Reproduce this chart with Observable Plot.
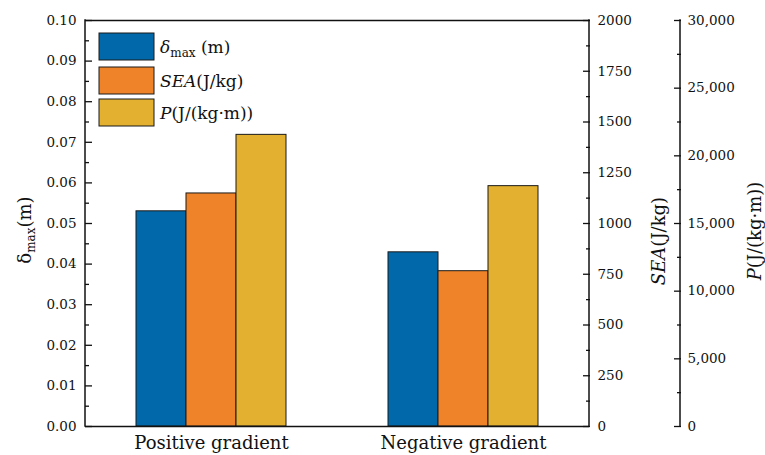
<!DOCTYPE html>
<html><head><meta charset="utf-8">
<script src="https://cdn.jsdelivr.net/npm/d3@7"></script>
<script src="https://cdn.jsdelivr.net/npm/@observablehq/plot@0.6"></script>
<style>
body{margin:0;background:#fff;}
#wrap{position:relative;width:765px;height:455px;}
</style></head><body><div id="wrap"></div>
<script>
// ---- data ----
const groups = ["Positive gradient", "Negative gradient"];
const seriesKeys = ["delta", "sea", "p"];
const deltaValues = [0.0530, 0.0429];     // δmax (m)
const seaValues = [1148, 765];            // SEA (J/kg)
const pValues = [21550, 17760];           // P (J/(kg·m))
const deltaTicks = [0, 0.01, 0.02, 0.03, 0.04, 0.05, 0.06, 0.07, 0.08, 0.09, 0.10];
const seaTicks = [0, 250, 500, 750, 1000, 1250, 1500, 1750, 2000];
const pTicks = [0, 5000, 10000, 15000, 20000, 25000, 30000];
const colors = ["#0168AA", "#EF8329", "#E4B02F"];

const deltaMax = 0.10, seaMax = 2000, pMax = 30000;
const toSea = v => v * deltaMax / seaMax;
const toP = v => v * deltaMax / pMax;
const mids = arr => d3.pairs(arr).map(([a, b]) => (a + b) / 2);

const rows = groups.flatMap((g, i) => [
  {group: g, series: "delta", y: deltaValues[i]},
  {group: g, series: "sea", y: toSea(seaValues[i])},
  {group: g, series: "p", y: toP(pValues[i])}
]);

const W = 765, H = 455, mL = 85, mR = 176, mT = 20, mB = 29, pOffset = 91;
const font = "'DejaVu Serif', serif";
const TK = 7, TM = 4;

const plot = Plot.plot({
  width: W, height: H, marginTop: mT, marginRight: mR, marginBottom: mB, marginLeft: mL,
  style: {fontFamily: font, fontSize: "13.5px", color: "#111", background: "#fff", overflow: "visible"},
  fx: {domain: groups, padding: 0, label: null},
  x: {domain: seriesKeys, paddingInner: 0, paddingOuter: 1, axis: null},
  y: {domain: [0, deltaMax], axis: null},
  color: {domain: seriesKeys, range: colors},
  marks: [
    Plot.barY(rows, {fx: "group", x: "series", y: "y", fill: "series", stroke: "#1a1a1a", strokeWidth: 1}),
    Plot.ruleY([0, deltaMax], {stroke: "#111", strokeWidth: 1.5}),
    Plot.axisFx({anchor: "bottom", tickSize: 0, tickPadding: 10, fontSize: 18, label: null}),
    // left δ axis (ticks inward)
    Plot.axisY({anchor: "left", dx: TK, ticks: deltaTicks, tickSize: TK, tickPadding: 9, strokeWidth: 1.3,
      tickFormat: d3.format(".2f"), label: null}),
    Plot.axisY({anchor: "left", dx: TM, ticks: mids(deltaTicks), tickSize: TM, strokeWidth: 1.3,
      tickFormat: () => "", label: null}),
    // right SEA axis
    Plot.axisY({anchor: "right", dx: -TK, ticks: seaTicks.map(toSea), tickSize: TK, tickPadding: 8, strokeWidth: 1.3,
      tickFormat: d => String(Math.round(d * seaMax / deltaMax)), label: null}),
    Plot.axisY({anchor: "right", dx: -TM, ticks: mids(seaTicks).map(toSea), tickSize: TM, strokeWidth: 1.3,
      tickFormat: () => "", label: null}),
    // far right P axis
    Plot.axisY({anchor: "right", dx: pOffset - TK, ticks: pTicks.map(toP), tickSize: TK, tickPadding: 7, strokeWidth: 1.3,
      tickFormat: d => d3.format(",")(Math.round(d * pMax / deltaMax)), label: null}),
    Plot.axisY({anchor: "right", dx: pOffset - TM, ticks: mids(pTicks).map(toP), tickSize: TM, strokeWidth: 1.3,
      tickFormat: () => "", label: null})
  ]
});
document.getElementById("wrap").appendChild(plot);

const svg = d3.select(plot);
const ys = plot.scale("y");
const y0 = ys.apply(0), y1 = ys.apply(deltaMax);
// axis lines
const lines = svg.append("g").attr("stroke", "#111").attr("stroke-width", 1.5);
[mL, W - mR, W - mR + pOffset].forEach(x => {
  lines.append("line").attr("x1", x).attr("x2", x).attr("y1", y1 - 0.75).attr("y2", y0 + 0.75);
});

// axis titles
function title(x, y, build) {
  const t = svg.append("text")
    .attr("transform", `translate(${x},${y}) rotate(-90)`)
    .attr("text-anchor", "middle")
    .attr("font-family", font).attr("font-size", 18).attr("fill", "#111");
  build(t);
}
title(31, 230, t => {
  t.append("tspan").text("δ");
  t.append("tspan").attr("font-size", 12).attr("dy", 4).text("max");
  t.append("tspan").attr("dy", -4).text("(m)");
});
title(665, 241, t => {
  t.append("tspan").attr("font-style", "italic").text("SEA");
  t.append("tspan").text("(J/kg)");
});
title(761, 231, t => {
  t.append("tspan").attr("font-style", "italic").text("P");
  t.append("tspan").text("(J/(kg·m))");
});

// legend
const legendY = [33, 67, 99];
const lg = svg.append("g").attr("font-family", font).attr("font-size", 17).attr("fill", "#111")
  .attr("text-anchor", "start");
seriesKeys.forEach((k, i) => {
  lg.append("rect").attr("x", 99).attr("y", legendY[i]).attr("width", 55).attr("height", 27)
    .attr("fill", colors[i]).attr("stroke", "#1a1a1a").attr("stroke-width", 1);
  const t = lg.append("text").attr("x", 160).attr("y", legendY[i] + 19.5).attr("text-anchor", "start");
  if (k === "delta") {
    t.append("tspan").attr("font-style", "italic").text("δ");
    t.append("tspan").attr("font-size", 12).attr("dy", 4).text("max");
    t.append("tspan").attr("dy", -4).text(" (m)");
  } else if (k === "sea") {
    t.append("tspan").attr("font-style", "italic").text("SEA");
    t.append("tspan").text("(J/kg)");
  } else {
    t.append("tspan").attr("font-style", "italic").text("P");
    t.append("tspan").text("(J/(kg·m))");
  }
});
</script></body></html>
